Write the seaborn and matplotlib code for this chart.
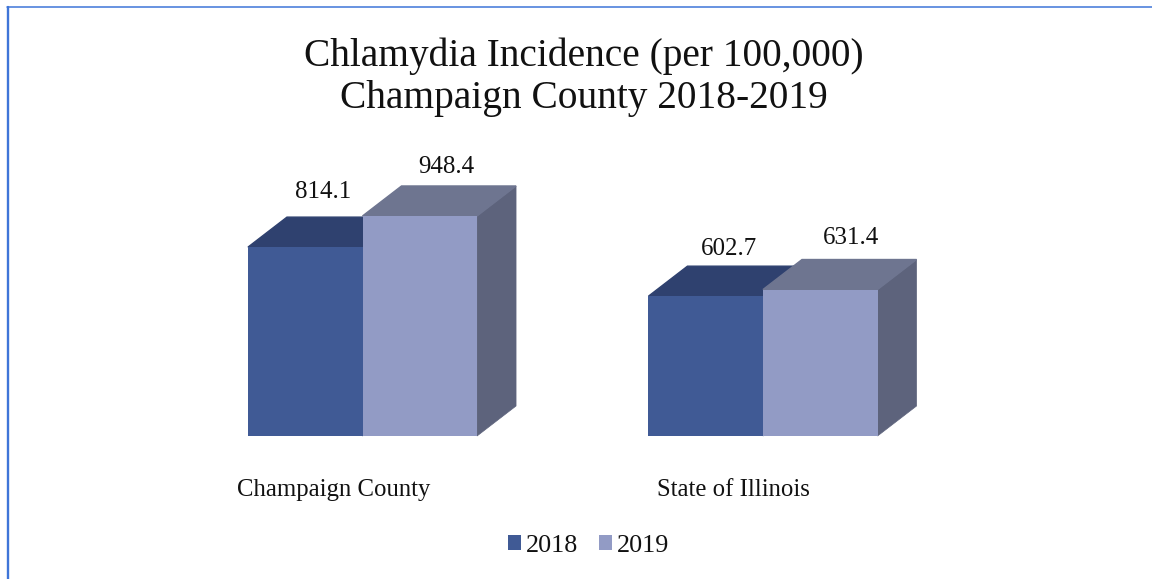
import matplotlib
matplotlib.use("Agg")
import matplotlib.pyplot as plt
from matplotlib.patches import Polygon, Rectangle
import pandas as pd
import seaborn as sns

categories = ["Champaign County", "State of Illinois"]
years = ["2018", "2019"]
values_2018 = [814.1, 602.7]
values_2019 = [948.4, 631.4]

front_colors = ["#405A95", "#929BC5"]
top_colors = ["#2F416F", "#6E7590"]
side_colors = ["#2F416F", "#5D637C"]
FONT = "Liberation Serif"

# hand-placed data label offsets in pixels, (right of bar centre, above back edge)
label_offsets = [[(18, 25), (23.5, 17.5)], [(26.5, 19), (31, 22)]]

W, H = 1152, 579
DPI = 100
PX_PER_CAT = 400.5
PX_PER_VAL = 0.232
AX_L, AX_R, AX_B, AX_T = 160, 1000, 436, 150

sns.set_theme(style="white")
plt.rcParams["font.family"] = [FONT, "DejaVu Serif"]

df = pd.DataFrame({
    "category": categories * 2,
    "year": [years[0]] * 2 + [years[1]] * 2,
    "value": values_2018 + values_2019,
})

fig = plt.figure(figsize=(W / DPI, H / DPI), dpi=DPI, facecolor="white")
ax = fig.add_axes([AX_L / W, 1 - AX_B / H, (AX_R - AX_L) / W, (AX_B - AX_T) / H])
sns.barplot(data=df, x="category", y="value", hue="year", hue_order=years,
            palette=front_colors, width=0.572, saturation=1, ax=ax,
            legend=False, linewidth=0, errorbar=None)
ax.set_xlim((AX_L - 362.5) / PX_PER_CAT, (AX_R - 362.5) / PX_PER_CAT)
ax.set_ylim(0, (AX_B - AX_T) / PX_PER_VAL)
dx = 39 / PX_PER_CAT
dy = 30 / PX_PER_VAL

for i, container in enumerate(ax.containers):
    for j, (bar, val) in enumerate(zip(container.patches, container.datavalues)):
        bar.set_zorder(2 + 2 * i)
        x0, x1, h = bar.get_x(), bar.get_x() + bar.get_width(), bar.get_height()
        ax.add_patch(Polygon([(x1, 0), (x1 + dx, dy), (x1 + dx, h + dy), (x1, h)],
                             closed=True, fc=side_colors[i], ec=side_colors[i], lw=0.5,
                             zorder=1 + 2 * i, clip_on=False))
        ax.add_patch(Polygon([(x0, h), (x0 + dx, h + dy), (x1 + dx, h + dy), (x1, h)],
                             closed=True, fc=top_colors[i], ec=top_colors[i], lw=1.0,
                             zorder=1 + 2 * i, clip_on=False))
        ox, oy = label_offsets[i][j]
        ax.text((x0 + x1) / 2 + ox / PX_PER_CAT, h + dy + oy / PX_PER_VAL, f"{val:.1f}",
                ha="center", va="center", fontsize=18, color="#111111", zorder=10)

sns.despine(ax=ax, left=True, bottom=True)
ax.patch.set_alpha(0)
ax.set_ylabel("")
ax.set_xlabel("")
ax.set_yticks([])
ax.set_xticks([-29 / PX_PER_CAT, 1 - 30 / PX_PER_CAT])
ax.set_xticklabels(categories, fontsize=17.8, color="#111111")
ax.tick_params(axis="x", length=0, pad=31)

fig.text(583.5 / W, 1 - 77 / H, "Chlamydia Incidence (per 100,000)\nChampaign County 2018-2019",
         ha="center", va="center", fontsize=28.4, color="#111111", linespacing=1.17)

# legend
handles = [Rectangle((0, 0), 1, 1, fc=c, ec="none") for c in front_colors]
fig.legend(handles, years, loc="center", bbox_to_anchor=(588.5 / W, 1 - 546 / H), ncol=2,
           frameon=False, fontsize=18.8, handlelength=0.5, handleheight=0.5,
           handletextpad=0.2, columnspacing=0.78, labelcolor="#111111")

# chart-area border, open on the right and bottom
border = "#3F75D8"
fig.add_artist(plt.Line2D([7.5 / W, 7.5 / W], [0, 1 - 6.5 / H], color=border, lw=1.7))
fig.add_artist(plt.Line2D([6.5 / W, 1], [1 - 6.5 / H, 1 - 6.5 / H], color=border, lw=1.1))

fig.savefig("out.png", dpi=DPI, facecolor="white")
